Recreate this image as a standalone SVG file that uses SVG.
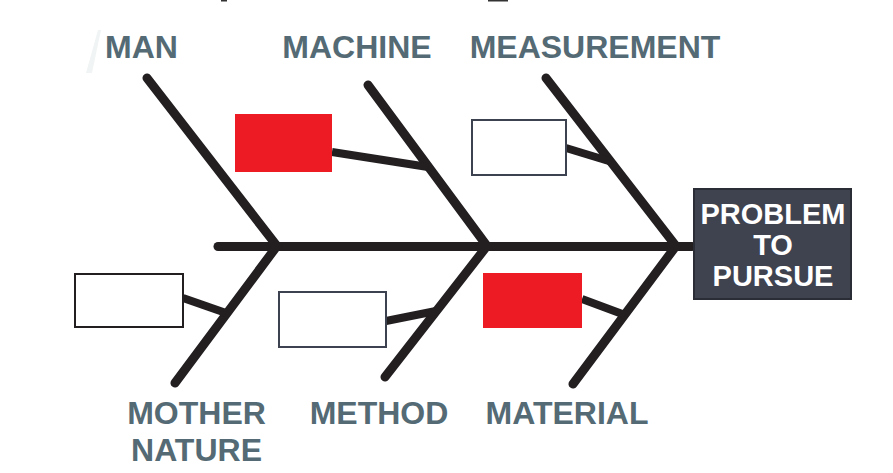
<svg xmlns="http://www.w3.org/2000/svg" width="893" height="473" viewBox="0 0 893 473">
<style>
.bone{fill:none;stroke:#231f20;stroke-width:9;stroke-linecap:round;stroke-linejoin:miter;stroke-miterlimit:10}
.branch{fill:none;stroke:#231f20;stroke-width:8}
.lbl{font-family:"Liberation Sans",Arial,sans-serif;font-weight:bold;font-size:32px;fill:#546a74;text-anchor:middle}
.red{fill:#ed1c24}
.empty{fill:#ffffff;stroke:#3d4250;stroke-width:2}
.ptxt{font-family:"Liberation Sans",Arial,sans-serif;font-weight:bold;font-size:29px;fill:#ffffff;text-anchor:middle}
</style>
<rect width="893" height="473" fill="#ffffff"/>
<rect x="221" y="0" width="6" height="1.5" fill="#333333"/>
<rect x="488" y="0" width="20" height="1.5" fill="#333333"/>
<polygon points="86,73 98,30 101,30 92,73" fill="#f1f4f4"/>
<g id="connectors">
<line class="bone" x1="218" y1="246.5" x2="692" y2="246.5"/>
<polyline class="bone" points="147,78 277,246 175,383"/>
<polyline class="bone" points="368,85 487,246 385,377"/>
<polyline class="bone" points="546,78 676,246 573,384"/>
<line class="branch" x1="332" y1="152" x2="428" y2="167"/>
<line class="branch" x1="566" y1="148" x2="612" y2="162"/>
<line class="branch" x1="183" y1="298" x2="226" y2="313"/>
<line class="branch" x1="386" y1="321" x2="436" y2="311"/>
<line class="branch" x1="582" y1="299" x2="625" y2="315"/>
</g>
<g id="man"><text class="lbl" x="141.5" y="58">MAN</text></g>
<g id="machine"><text class="lbl" x="357" y="58">MACHINE</text></g>
<g id="measurement"><text class="lbl" x="595" y="58">MEASUREMENT</text></g>
<g id="mother-nature"><text class="lbl" x="196.5" y="424">MOTHER</text><text class="lbl" x="196.5" y="461">NATURE</text></g>
<g id="method"><text class="lbl" x="379" y="424">METHOD</text></g>
<g id="material"><text class="lbl" x="567" y="424">MATERIAL</text></g>
<g id="box-machine"><rect class="red" x="235" y="114" width="97" height="58"/></g>
<g id="box-measurement"><rect class="empty" x="472" y="120" width="94" height="55"/></g>
<g id="box-mother-nature"><rect x="75" y="274" width="108" height="53" fill="#ffffff" stroke="#231f20" stroke-width="2"/></g>
<g id="box-method"><rect class="empty" x="279" y="292" width="107" height="55"/></g>
<g id="box-material"><rect class="red" x="483" y="273" width="99" height="55"/></g>
<g id="problem">
<rect x="694" y="189" width="157" height="110" fill="#3f4350" stroke="#2a2d36" stroke-width="2"/>
<text class="ptxt" x="773" y="224">PROBLEM</text>
<text class="ptxt" x="773" y="255">TO</text>
<text class="ptxt" x="773" y="286">PURSUE</text>
</g>
</svg>
